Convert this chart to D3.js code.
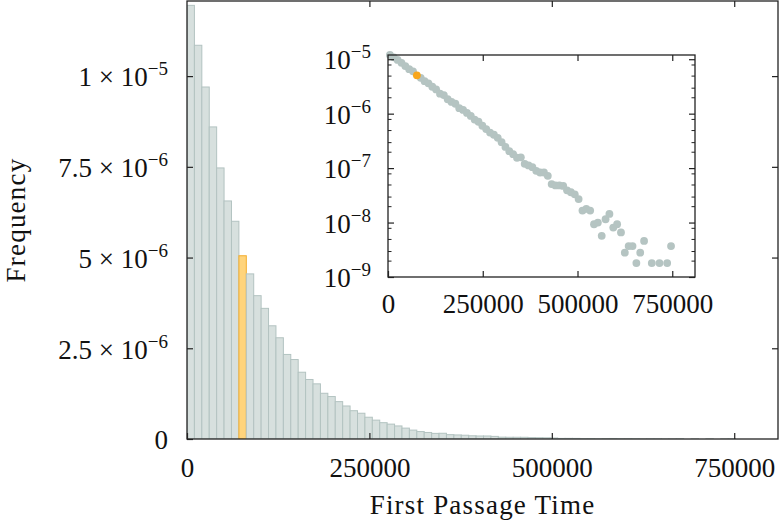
<!DOCTYPE html>
<html>
<head>
<meta charset="utf-8">
<script src="https://cdn.jsdelivr.net/npm/d3@7"></script>
<style>
  html, body { margin: 0; padding: 0; background: #ffffff; }
  svg { display: block; }
  text { font-family: "Liberation Serif", "DejaVu Serif", serif; fill: #111; }
</style>
</head>
<body>
<svg id="chart" width="780" height="520"></svg>
<script>
// ---------------- DATA ----------------
const binWidth = 10160;           // histogram bin width (first passage time units)
const highlightBin = 7;           // highlighted (orange) bin index
const freq = [
  1.195e-5, 1.085e-5, 9.70e-6, 8.60e-6, 7.47e-6, 6.56e-6, 6.00e-6, 5.05e-6,
  4.55e-6, 3.95e-6, 3.60e-6, 3.12e-6, 2.79e-6, 2.33e-6, 2.19e-6, 1.84e-6,
  1.64e-6, 1.52e-6, 1.26e-6, 1.17e-6, 1.03e-6, 9.1e-7, 7.8e-7, 7.1e-7,
  6.0e-7, 5.2e-7, 4.5e-7, 4.1e-7, 3.6e-7, 3.0e-7, 2.45e-7, 2.05e-7,
  1.8e-7, 1.55e-7, 1.58e-7, 1.2e-7, 1.12e-7, 1.04e-7, 8.9e-8, 8.3e-8,
  8.3e-8, 7.2e-8, 5.1e-8, 4.8e-8, 4.8e-8, 4.7e-8, 3.9e-8, 3.6e-8,
  3.3e-8, 2.7e-8, 1.66e-8, 1.78e-8, 1.66e-8, 9.3e-9, 1.0e-8, 5.7e-9,
  1.15e-8, 1.44e-8, 8.1e-9, 9.3e-9, 6.6e-9, 2.8e-9, 3.7e-9, 3.7e-9,
  1.8e-9, 2.8e-9, 4.6e-9, 0, 1.8e-9, 0, 1.8e-9, 0, 1.8e-9, 3.7e-9
];
const xTicks = [0, 250000, 500000, 750000];
const xMax = 810000;
const mainYTicks = [0, 2.5e-6, 5e-6, 7.5e-6, 1e-5];
const mainYMax = 1.207e-5;
const insetYTicks = [1e-9, 1e-8, 1e-7, 1e-6, 1e-5];
const insetMinorMantissas = [2, 3, 5, 8];
const insetYMin = 1e-9;
const xTitle = "First Passage Time";
const yTitle = "Frequency";

// ---------------- STYLE ----------------
const barFill = "#d7e0de", barStroke = "#b3c3c1";
const hiFill = "#ffd47c", hiStroke = "#f3ad2e";
const dotFill = "#b5c4c2", dotHi = "#f8a61c";
const axisColor = "#222";
const fs = 27, supFs = 19;

const svg = d3.select("#chart");

// label helper: mantissa × 10^exp
function sciLabel(sel, v, withMantissa) {
  if (v === 0) { sel.text("0"); return; }
  const e = Math.floor(Math.log10(v) + 1e-9);
  const m = +(v / Math.pow(10, e)).toFixed(2);
  sel.text("");
  sel.append("tspan").text(withMantissa ? (m + " \u00D7 10") : "10");
  sel.append("tspan").attr("dy", -11).attr("font-size", supFs).text("\u2212" + Math.abs(e));
}

// ---------------- MAIN ----------------
const M = { left: 187, right: 778, top: 1, bottom: 439 };
const x = d3.scaleLinear().domain([0, xMax]).range([M.left, M.right]);
const y = d3.scaleLinear().domain([0, mainYMax]).range([M.bottom, M.top]);

const bins = freq.map((v, i) => ({ i, x0: i * binWidth, x1: (i + 1) * binWidth, v }));

svg.append("clipPath").attr("id", "mainClip").append("rect")
  .attr("x", M.left).attr("y", M.top).attr("width", M.right - M.left).attr("height", M.bottom - M.top);

svg.append("g").attr("clip-path", "url(#mainClip)")
  .selectAll("rect").data(bins.filter(d => d.v > 0)).join("rect")
  .attr("x", d => x(d.x0))
  .attr("y", d => y(d.v))
  .attr("width", d => x(d.x1) - x(d.x0))
  .attr("height", d => y(0) - y(d.v))
  .attr("fill", d => d.i === highlightBin ? hiFill : barFill)
  .attr("stroke", d => d.i === highlightBin ? hiStroke : barStroke)
  .attr("stroke-width", 1);

// frame
svg.append("rect").attr("x", M.left).attr("y", M.top)
  .attr("width", M.right - M.left).attr("height", M.bottom - M.top)
  .attr("fill", "none").attr("stroke", axisColor).attr("stroke-width", 1.3);

// axes via d3 (ticks inward)
const tl = 6;
svg.append("g").attr("transform", `translate(0,${M.bottom})`)
  .call(d3.axisBottom(x).tickValues(xTicks).tickSizeInner(-tl).tickSizeOuter(0).tickPadding(19).tickFormat(d3.format("d")))
  .call(g => { g.select(".domain").remove(); g.selectAll("line").attr("stroke", axisColor).attr("stroke-width", 1.2);
               g.selectAll("text").attr("font-size", fs).attr("font-family", "Liberation Serif").attr("fill", "#111"); });
svg.append("g").attr("transform", `translate(0,${M.top})`)
  .call(d3.axisTop(x).tickValues(xTicks.filter(t => t > 0)).tickSizeInner(-tl).tickSizeOuter(0).tickFormat(""))
  .call(g => { g.select(".domain").remove(); g.selectAll("line").attr("stroke", axisColor).attr("stroke-width", 1.2); });
svg.append("g").attr("transform", `translate(${M.right},0)`)
  .call(d3.axisRight(y).tickValues(mainYTicks.filter(t => t > 0)).tickSizeInner(-tl).tickSizeOuter(0).tickFormat(""))
  .call(g => { g.select(".domain").remove(); g.selectAll("line").attr("stroke", axisColor).attr("stroke-width", 1.2); });
const yAx = svg.append("g").attr("transform", `translate(${M.left},0)`)
  .call(d3.axisLeft(y).tickValues(mainYTicks).tickSizeInner(-tl).tickSizeOuter(0).tickPadding(19))
  .call(g => { g.select(".domain").remove(); g.selectAll("line").attr("stroke", axisColor).attr("stroke-width", 1.2); });
yAx.selectAll(".tick text").attr("font-size", fs).attr("font-family", "Liberation Serif").attr("fill", "#111")
  .attr("dy", "0.36em")
  .each(function (d) { sciLabel(d3.select(this), d, true); });

// titles
svg.append("text").attr("x", (M.left + M.right) / 2).attr("y", 514)
  .attr("text-anchor", "middle").attr("font-size", fs).attr("letter-spacing", 1.2).text(xTitle);
svg.append("text").attr("transform", `translate(25,${(M.top + M.bottom) / 2}) rotate(-90)`)
  .attr("text-anchor", "middle").attr("font-size", fs).attr("letter-spacing", 1.2).text(yTitle);

// ---------------- INSET ----------------
const I = { left: 388, right: 695, top: 55, bottom: 277 };
const xi = d3.scaleLinear().domain([0, xMax]).range([I.left, I.right]);
const yi = d3.scaleLog().domain([insetYMin, d3.max(freq)]).range([I.bottom, I.top]);

svg.append("rect").attr("x", I.left).attr("y", I.top)
  .attr("width", I.right - I.left).attr("height", I.bottom - I.top)
  .attr("fill", "#fff").attr("stroke", "none");

const pts = bins.filter(d => d.v > 0);
svg.append("g").selectAll("circle").data(pts.filter(d => d.i !== highlightBin)).join("circle")
  .attr("cx", d => xi((d.x0 + d.x1) / 2)).attr("cy", d => yi(d.v)).attr("r", 3.9).attr("fill", dotFill);
svg.append("g").selectAll("circle").data(pts.filter(d => d.i === highlightBin)).join("circle")
  .attr("cx", d => xi((d.x0 + d.x1) / 2)).attr("cy", d => yi(d.v)).attr("r", 3.9).attr("fill", dotHi);

svg.append("rect").attr("x", I.left).attr("y", I.top)
  .attr("width", I.right - I.left).attr("height", I.bottom - I.top)
  .attr("fill", "none").attr("stroke", axisColor).attr("stroke-width", 1.3);

const minorTicks = [];
insetYTicks.forEach(t => insetMinorMantissas.forEach(m => {
  const v = t * m; if (v <= d3.max(freq) && v >= insetYMin) minorTicks.push(v);
}));

svg.append("g").attr("transform", `translate(0,${I.bottom})`)
  .call(d3.axisBottom(xi).tickValues(xTicks).tickSizeInner(-6).tickSizeOuter(0).tickPadding(17).tickFormat(d3.format("d")))
  .call(g => { g.select(".domain").remove(); g.selectAll("line").attr("stroke", axisColor).attr("stroke-width", 1.2);
               g.selectAll("text").attr("font-size", fs).attr("font-family", "Liberation Serif").attr("fill", "#111"); });
svg.append("g").attr("transform", `translate(0,${I.top})`)
  .call(d3.axisTop(xi).tickValues(xTicks.filter(t => t > 0)).tickSizeInner(-6).tickSizeOuter(0).tickFormat(""))
  .call(g => { g.select(".domain").remove(); g.selectAll("line").attr("stroke", axisColor).attr("stroke-width", 1.2); });

[[I.left, d3.axisLeft], [I.right, d3.axisRight]].forEach(([px, fn], idx) => {
  const gMaj = svg.append("g").attr("transform", `translate(${px},0)`)
    .call(fn(yi).tickValues(insetYTicks).tickSizeInner(-6).tickSizeOuter(0).tickPadding(17).tickFormat(idx === 0 ? null : ""))
    .call(g => { g.select(".domain").remove(); g.selectAll("line").attr("stroke", axisColor).attr("stroke-width", 1.2); });
  if (idx === 0) {
    gMaj.selectAll(".tick text").attr("font-size", fs).attr("font-family", "Liberation Serif").attr("fill", "#111")
      .attr("dy", "0.36em").each(function (d) { sciLabel(d3.select(this), d, false); });
  }
  svg.append("g").attr("transform", `translate(${px},0)`)
    .call(fn(yi).tickValues(minorTicks).tickSizeInner(-3.5).tickSizeOuter(0).tickFormat(""))
    .call(g => { g.select(".domain").remove(); g.selectAll("line").attr("stroke", axisColor).attr("stroke-width", 1); });
});
</script>
</body>
</html>
